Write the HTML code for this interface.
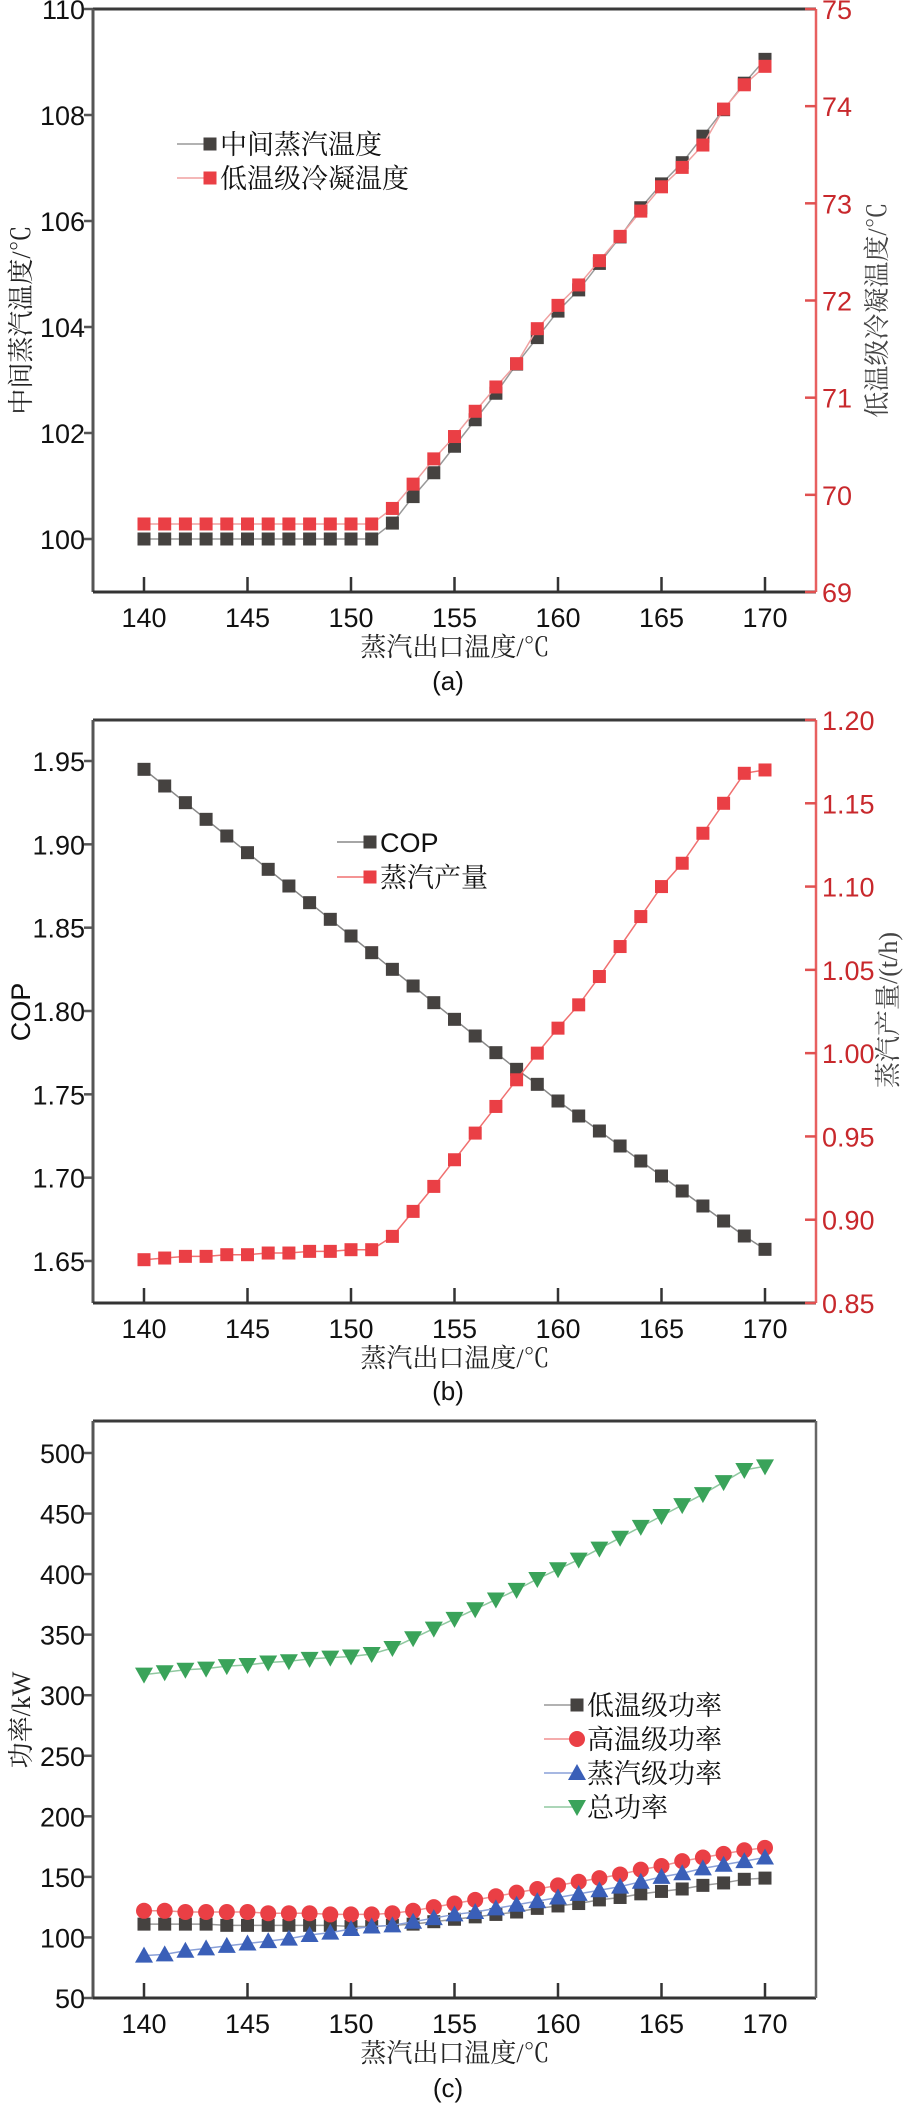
<!DOCTYPE html>
<html><head><meta charset="utf-8">
<style>
html,body{margin:0;padding:0;background:#fff;}
svg{display:block;font-family:"Liberation Sans","Noto Sans CJK SC",sans-serif;}
.cj{font-family:"Liberation Serif","Noto Serif CJK SC","Noto Sans CJK SC",serif;}
</style></head>
<body>
<svg id="root" width="908" height="2112" viewBox="0 0 908 2112" xmlns="http://www.w3.org/2000/svg"></svg>
<script>
const xCategories = [140,141,142,143,144,145,146,147,148,149,150,151,152,153,154,155,156,157,158,159,160,161,162,163,164,165,166,167,168,169,170];
const xTicks = [140,145,150,155,160,165,170];
// chart a
const aMidTemp = [100,100,100,100,100,100,100,100,100,100,100,100,100.3,100.8,101.25,101.75,102.25,102.75,103.3,103.8,104.3,104.7,105.2,105.7,106.25,106.7,107.1,107.6,108.1,108.6,109.05];
const aCondTemp = [69.7,69.7,69.7,69.7,69.7,69.7,69.7,69.7,69.7,69.7,69.7,69.7,69.86,70.11,70.37,70.6,70.86,71.11,71.35,71.71,71.95,72.16,72.41,72.66,72.92,73.17,73.37,73.6,73.97,74.22,74.41];
const aLeftTicks = [100,102,104,106,108,110];
const aRightTicks = [69,70,71,72,73,74,75];
// chart b
const bCOP = [1.945,1.935,1.925,1.915,1.905,1.895,1.885,1.875,1.865,1.855,1.845,1.835,1.825,1.815,1.805,1.795,1.785,1.775,1.765,1.756,1.746,1.737,1.728,1.719,1.71,1.701,1.692,1.683,1.674,1.665,1.657];
const bSteam = [0.876,0.877,0.878,0.878,0.879,0.879,0.880,0.880,0.881,0.881,0.882,0.882,0.89,0.905,0.92,0.936,0.952,0.968,0.984,1.0,1.015,1.029,1.046,1.064,1.082,1.1,1.114,1.132,1.15,1.168,1.17];
const bLeftTicks = [1.65,1.70,1.75,1.80,1.85,1.90,1.95];
const bRightTicks = [0.85,0.90,0.95,1.00,1.05,1.10,1.15,1.20];
// chart c
const cLow = [111,111,111,111,110,110,110,110,110,110,109,109,110,111,113,115,117,119,121,124,126,128,131,133,136,138,140,143,145,148,149];
const cHigh = [122,122,121,121,121,121,120,120,120,119,119,119,120,122,125,128,131,134,137,140,143,146,149,152,156,159,163,166,169,172,174];
const cSteam = [85,86,89,91,93,95,97,99,102,104,107,109,110,113,116,119,121,124,127,130,133,136,139,142,146,150,153,157,160,163,166];
const cTotal = [317,319,321,322,324,325,327,328,330,331,332,334,339,347,355,363,371,379,387,396,404,412,421,430,439,448,457,466,476,486,489];
const cTicks = [50,100,150,200,250,300,350,400,450,500];

const NS="http://www.w3.org/2000/svg";
const root=document.getElementById('root');
function el(tag,attrs,parent,text){const e=document.createElementNS(NS,tag);for(const k in attrs)e.setAttribute(k,attrs[k]);if(text!==undefined)e.textContent=text;(parent||root).appendChild(e);return e;}
const L=93,R=816;
function xs(v){return 144+(v-140)*(765-144)/30;}
function lin(d0,d1,p0,p1){return v=>p0+(v-d0)*(p1-p0)/(d1-d0);}

function frame(g,top,bot,rightColor){
  el('line',{x1:L,y1:top,x2:R,y2:top,stroke:'#3a3a3a','stroke-width':3},g);
  el('line',{x1:L,y1:top,x2:L,y2:bot,stroke:'#555','stroke-width':3},g);
  el('line',{x1:L,y1:bot,x2:R,y2:bot,stroke:'#333','stroke-width':3},g);
  el('line',{x1:R,y1:top,x2:R,y2:bot,stroke:rightColor,'stroke-width':2.5},g);
  xTicks.forEach(t=>{
    el('line',{x1:xs(t),y1:bot,x2:xs(t),y2:bot-15,stroke:'#333','stroke-width':2.5},g);
    const tx=el('text',{x:xs(t),y:bot+35,'font-size':27,'text-anchor':'middle',fill:'#111'},g,String(t));
    
    
  });
  const xt=el('text',{x:455,y:bot+64,'font-size':26,'text-anchor':'middle',fill:'#222',class:'cj'},g,'蒸汽出口温度/℃');
  
  
}
function leftTicks(g,ticks,ys,fmt){
  ticks.forEach(t=>{
    el('line',{x1:L,y1:ys(t),x2:L-9,y2:ys(t),stroke:'#555','stroke-width':2.5},g);
    const tx=el('text',{x:L-8,y:ys(t)+10,'font-size':27,'text-anchor':'end',fill:'#111'},g,fmt(t));
    
    
  });
}
function rightTicks(g,ticks,ys,fmt){
  ticks.forEach(t=>{
    el('line',{x1:R,y1:ys(t),x2:R-11,y2:ys(t),stroke:'#e05050','stroke-width':2.5},g);
    const tx=el('text',{x:R+6,y:ys(t)+10,'font-size':27,fill:'#c8282c'},g,fmt(t));
    
    
  });
}
function series(g,vals,ys,lineColor,fill,shape,name){
  const sg=el('g',{},g);
  
  
  el('polyline',{points:vals.map((v,i)=>xs(xCategories[i])+','+ys(v)).join(' '),fill:'none',stroke:lineColor,'stroke-width':1.5},sg);
  vals.forEach((v,i)=>{const m=marker(sg,xs(xCategories[i]),ys(v),fill,shape);
    
    });
}
function marker(g,x,y,fill,shape){
  const s=13;
  if(shape==='sq')return el('rect',{x:x-s/2,y:y-s/2,width:s,height:s,fill:fill},g);
  if(shape==='ci')return el('circle',{cx:x,cy:y,r:8,fill:fill},g);
  if(shape==='up')return el('polygon',{points:`${x},${y-9} ${x-9},${y+7} ${x+9},${y+7}`,fill:fill},g);
  return el('polygon',{points:`${x},${y+9} ${x-9},${y-7} ${x+9},${y-7}`,fill:fill},g);
}
function legend(g,x,y,lineColor,fill,shape,text,sans){
  const lg=el('g',{},g);
  
  
  el('line',{x1:x,y1:y,x2:x+33,y2:y,stroke:lineColor,'stroke-width':1.5},lg);
  marker(lg,x+33,y,fill,shape);
  const a={x:x+43,y:y+10,'font-size':27,fill:'#111'};
  if(!sans)a['class']='cj';
  el('text',a,lg,text);
}
function caption(g,y,t){const c=el('text',{x:448,y:y,'font-size':26,'text-anchor':'middle',fill:'#111'},g,t);
  
  }

// ---- Chart A ----
const gA=el('g',{});


{const top=9,bot=592;
 const yl=lin(99,110,bot,top), yr=lin(69,75,bot,top);
 frame(gA,top,bot,'#e86060');
 leftTicks(gA,aLeftTicks,yl,String);
 rightTicks(gA,aRightTicks,yr,String);
 series(gA,aMidTemp,yl,'#999','#454240','sq','series-mid-steam-temp');
 series(gA,aCondTemp,yr,'#f0a0a0','#ea3f45','sq','series-cond-temp');
 legend(gA,177,144,'#999','#454240','sq','中间蒸汽温度');
 legend(gA,177,178,'#f0a0a0','#ea3f45','sq','低温级冷凝温度');
 const t1=el('text',{transform:'translate(30,320) rotate(-90)','font-size':26,'text-anchor':'middle',fill:'#222',class:'cj'},gA,'中间蒸汽温度/℃');
 
 
 const t2=el('text',{transform:'translate(886,310) rotate(-90)','font-size':26,'text-anchor':'middle',fill:'#444',class:'cj'},gA,'低温级冷凝温度/℃');
 
 
 caption(gA,690,'(a)');
}
// ---- Chart B ----
const gB=el('g',{});


{const top=720,bot=1303;
 const yl=lin(1.65,1.95,1261,761), yr=lin(0.85,1.20,bot,top);
 frame(gB,top,bot,'#e86060');
 leftTicks(gB,bLeftTicks,yl,v=>v.toFixed(2));
 rightTicks(gB,bRightTicks,yr,v=>v.toFixed(2));
 series(gB,bCOP,yl,'#888','#454240','sq','series-cop');
 series(gB,bSteam,yr,'#f07070','#ea3f45','sq','series-steam-output');
 legend(gB,337,842,'#888','#454240','sq','COP',true);
 legend(gB,337,877,'#f07070','#ea3f45','sq','蒸汽产量');
 const t1=el('text',{transform:'translate(30,1012) rotate(-90)','font-size':27,'text-anchor':'middle',fill:'#111'},gB,'COP');
 
 
 const t2=el('text',{transform:'translate(897,1010) rotate(-90)','font-size':26,'text-anchor':'middle',fill:'#444',class:'cj'},gB,'蒸汽产量/(t/h)');
 
 
 caption(gB,1400,'(b)');
}
// ---- Chart C ----
const gC=el('g',{});


{const top=1421,bot=1998;
 const yl=lin(50,500,bot,1453);
 frame(gC,top,bot,'#666');
 leftTicks(gC,cTicks,yl,String);
 series(gC,cLow,yl,'#999','#454240','sq','series-low-stage-power');
 series(gC,cHigh,yl,'#f09090','#ea3f45','ci','series-high-stage-power');
 series(gC,cSteam,yl,'#8aa0d8','#3a5fb8','up','series-steam-stage-power');
 series(gC,cTotal,yl,'#90c8a0','#3aa35a','dn','series-total-power');
 legend(gC,544,1705,'#999','#454240','sq','低温级功率');
 legend(gC,544,1739,'#f09090','#ea3f45','ci','高温级功率');
 legend(gC,544,1773,'#8aa0d8','#3a5fb8','up','蒸汽级功率');
 legend(gC,544,1807,'#90c8a0','#3aa35a','dn','总功率');
 const t1=el('text',{transform:'translate(30,1720) rotate(-90)','font-size':26,'text-anchor':'middle',fill:'#222',class:'cj'},gC,'功率/kW');
 
 
 caption(gC,2097,'(c)');
}
</script>
</body></html>
